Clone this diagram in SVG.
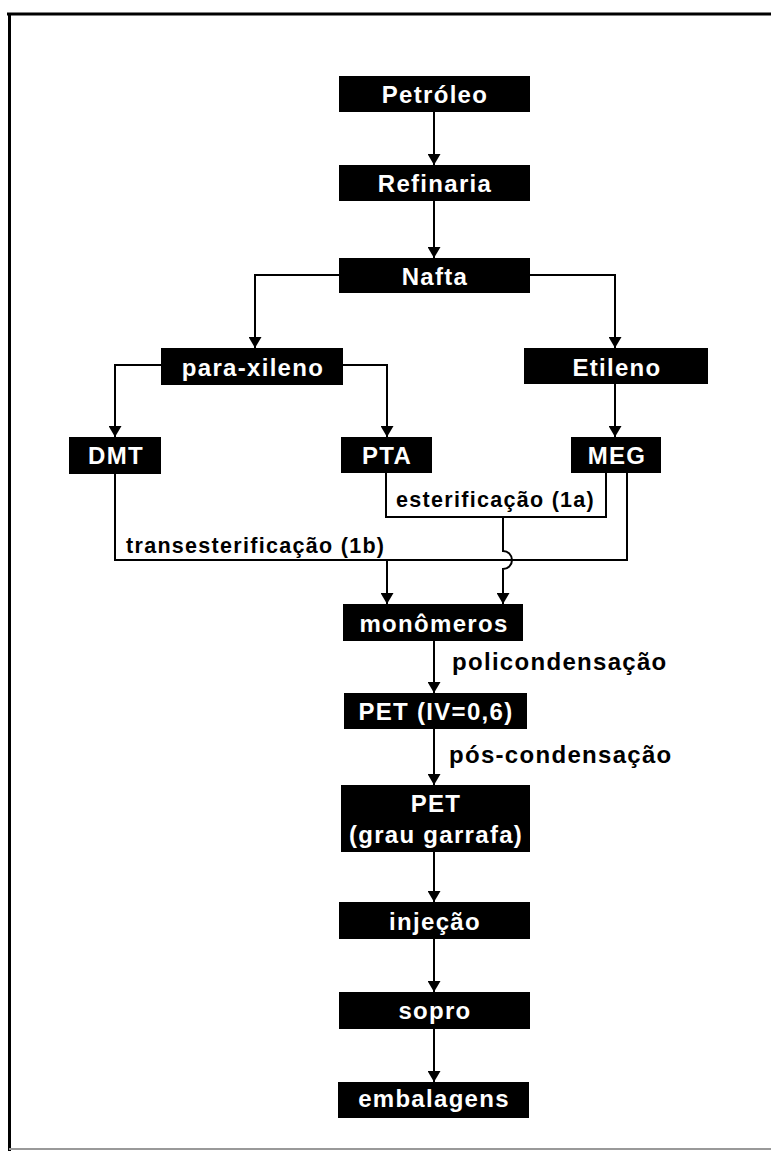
<svg xmlns="http://www.w3.org/2000/svg" width="771" height="1151" viewBox="0 0 771 1151">
<style>
.box{fill:#000}
.bt{fill:#fff;font-family:"Liberation Sans",Arial,sans-serif;font-weight:bold;font-size:24px;letter-spacing:1.3px;text-anchor:middle}
.lbl{fill:#000;font-family:"Liberation Sans",Arial,sans-serif;font-weight:bold;font-size:24px;letter-spacing:1.3px}
.lbs{fill:#000;font-family:"Liberation Sans",Arial,sans-serif;font-weight:bold;font-size:21.5px;letter-spacing:1.3px}
.ln{fill:none;stroke:#000;stroke-width:2}
.arr{marker-end:url(#ah)}
</style>
<defs>
<marker id="ah" markerUnits="userSpaceOnUse" viewBox="0 0 11 13" refX="11" refY="6.5" markerWidth="11" markerHeight="13" orient="auto">
<path d="M0,0 L11,6.5 L0,13 z" fill="#000"/>
</marker>
</defs>
<rect width="771" height="1151" fill="#fff"/>
<g id="frame">
<line x1="7" y1="14" x2="771" y2="14" stroke="#000" stroke-width="3"/>
<line x1="9.5" y1="13" x2="9.5" y2="1151" stroke="#000" stroke-width="3"/>
<line x1="9" y1="1149" x2="771" y2="1149" stroke="#999" stroke-width="2"/>
</g>
<g id="connectors">
<path class="ln arr" d="M434 112 V165"/>
<path class="ln arr" d="M434 201 V258"/>
<path class="ln arr" d="M339 275 H255 V348"/>
<path class="ln arr" d="M530 275 H615 V348"/>
<path class="ln arr" d="M161 365 H115 V437"/>
<path class="ln arr" d="M343 365 H387 V437"/>
<path class="ln arr" d="M615 384 V437"/>
<path class="ln" d="M386 473 V517 H606 V473"/>
<path class="ln arr" d="M503 517 V551 A9 9 0 0 1 503 569 V604"/>
<path class="ln" d="M115 474 V560 H627 V473"/>
<path class="ln arr" d="M387 560 V604"/>
<path class="ln arr" d="M434 641 V693"/>
<path class="ln arr" d="M434 729 V785"/>
<path class="ln arr" d="M434 852 V902"/>
<path class="ln arr" d="M434 939 V992"/>
<path class="ln arr" d="M434 1029 V1082"/>
<text class="lbs" x="396" y="507">esterificação (1a)</text>
<text class="lbs" x="126" y="553">transesterificação (1b)</text>
<text class="lbl" x="452" y="670">policondensação</text>
<text class="lbl" x="449" y="763">pós-condensação</text>
</g>
<g id="petroleo"><rect class="box" x="339" y="76" width="191" height="36"/><text class="bt" x="435" y="103">Petróleo</text></g>
<g id="refinaria"><rect class="box" x="339" y="165" width="191" height="36"/><text class="bt" x="435" y="192">Refinaria</text></g>
<g id="nafta"><rect class="box" x="339" y="258" width="191" height="35"/><text class="bt" x="435" y="285">Nafta</text></g>
<g id="para-xileno"><rect class="box" x="161" y="348" width="182" height="37"/><text class="bt" x="253" y="376">para-xileno</text></g>
<g id="etileno"><rect class="box" x="524" y="348" width="184" height="36"/><text class="bt" x="617" y="376">Etileno</text></g>
<g id="dmt"><rect class="box" x="69" y="437" width="92" height="37"/><text class="bt" x="116" y="464">DMT</text></g>
<g id="pta"><rect class="box" x="341" y="437" width="91" height="36"/><text class="bt" x="387" y="464">PTA</text></g>
<g id="meg"><rect class="box" x="571" y="437" width="90" height="36"/><text class="bt" x="617" y="464">MEG</text></g>
<g id="monomeros"><rect class="box" x="343" y="604" width="180" height="37"/><text class="bt" x="434" y="632">monômeros</text></g>
<g id="pet-iv"><rect class="box" x="344" y="693" width="183" height="36"/><text class="bt" x="436" y="720">PET (IV=0,6)</text></g>
<g id="pet-garrafa"><rect class="box" x="341" y="785" width="189" height="67"/><text class="bt" x="436" y="812">PET</text><text class="bt" x="436" y="843">(grau garrafa)</text></g>
<g id="injecao"><rect class="box" x="339" y="902" width="191" height="37"/><text class="bt" x="435" y="930">injeção</text></g>
<g id="sopro"><rect class="box" x="339" y="992" width="191" height="37"/><text class="bt" x="435" y="1019">sopro</text></g>
<g id="embalagens"><rect class="box" x="338" y="1082" width="191" height="36"/><text class="bt" x="434" y="1107">embalagens</text></g>
</svg>
